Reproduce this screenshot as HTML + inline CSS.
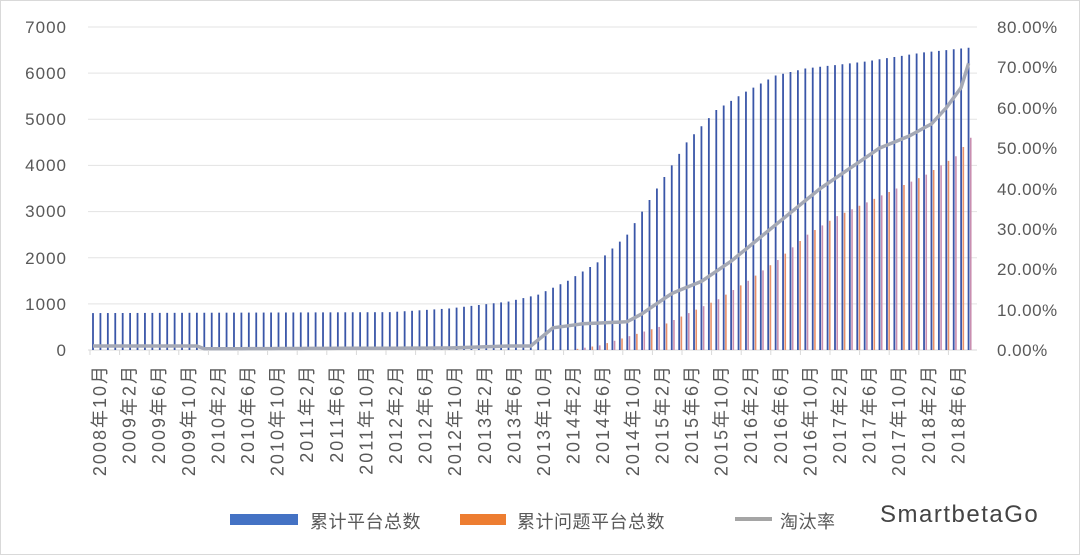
<!DOCTYPE html>
<html><head><meta charset="utf-8"><style>
body{margin:0;background:#fff}
svg{display:block}
text{font-family:"Liberation Sans","Noto Sans CJK SC",sans-serif;fill:#595959}
</style></head><body>
<svg id="s" width="1080" height="555" viewBox="0 0 1080 555" xmlns="http://www.w3.org/2000/svg">
<rect x="0.5" y="0.5" width="1079" height="554" fill="#fff" stroke="#d9d9d9"/>
<g id="g"></g>
<g font-size="17" letter-spacing="1">
<text x="67" y="33" text-anchor="end">7000</text>
<text x="67" y="79" text-anchor="end">6000</text>
<text x="67" y="125" text-anchor="end">5000</text>
<text x="67" y="171" text-anchor="end">4000</text>
<text x="67" y="217" text-anchor="end">3000</text>
<text x="67" y="264" text-anchor="end">2000</text>
<text x="67" y="310" text-anchor="end">1000</text>
<text x="67" y="356" text-anchor="end">0</text>
</g>
<g font-size="17" letter-spacing="0.5">
<text x="997" y="33">80.00%</text>
<text x="997" y="73">70.00%</text>
<text x="997" y="114">60.00%</text>
<text x="997" y="154">50.00%</text>
<text x="997" y="195">40.00%</text>
<text x="997" y="235">30.00%</text>
<text x="997" y="275">20.00%</text>
<text x="997" y="316">10.00%</text>
<text x="997" y="356">0.00%</text>
</g>
<rect x="230" y="514" width="68" height="11" fill="#4472c4"/>
<text x="310" y="528" font-size="18" letter-spacing="0.5">累计平台总数</text>
<rect x="460" y="514" width="46" height="11" fill="#ed7d31"/>
<text x="517" y="528" font-size="18" letter-spacing="0.5">累计问题平台总数</text>
<line x1="735" y1="519" x2="772" y2="519" stroke="#a5a5a5" stroke-width="4"/>
<text x="780" y="528" font-size="18" letter-spacing="0.5">淘汰率</text>
<text x="880" y="522" font-size="24" letter-spacing="1.5" style="fill:#444">SmartbetaGo</text>
</svg>
<script type="text/javascript">
(function(){
var g=document.getElementById('g');var h='';
var y0=350,ppu=323/7000;
function interp(p,i){for(var k=1;k<p.length;k++){if(i<=p[k][0]){var a=p[k-1],b=p[k];return a[1]+(b[1]-a[1])*(i-a[0])/(b[0]-a[0]);}}return p[p.length-1][1];}
for(var v=1;v<=7;v++){var y=y0-v*1000*ppu;h+='<line x1="88" y1="'+y+'" x2="977" y2="'+y+'" stroke="#e3e3e3"/>';}
h+='<line x1="88" y1="'+y0+'" x2="977" y2="'+y0+'" stroke="#d9d9d9"/>';
var B=[[0,800],[40,820],[48,900],[56,1050],[60,1200],[64,1500],[68,1900],[72,2500],[76,3500],[80,4500],[84,5200],[88,5600],[92,5950],[96,6100],[104,6250],[112,6450],[118,6550]];
var O=[[0,0],[64,0],[68,100],[72,300],[76,500],[80,800],[84,1100],[88,1500],[92,1950],[96,2500],[100,2900],[104,3200],[108,3500],[112,3800],[116,4200],[118,4600]];
var R=[[0,1],[14,1],[15,0.3],[48,0.5],[56,1],[59,1],[62,5.5],[66,6.5],[72,7],[74,9],[78,14],[82,17],[86,22],[90,28],[94,34],[98,40],[102,45],[106,50],[110,53],[113,56],[115,60],[117,65],[118,71]];
var pts=[];
for(var i=0;i<=118;i++){var x=93+i*7.42;var b=interp(B,i),o=interp(O,i);
h+='<line x1="'+x+'" y1="'+y0+'" x2="'+x+'" y2="'+(y0-b*ppu)+'" stroke="#3a56a8" stroke-width="1.8"/>';
if(o>0)h+='<line x1="'+(x+2.2)+'" y1="'+y0+'" x2="'+(x+2.2)+'" y2="'+(y0-o*ppu)+'" stroke="'+(i%2?'#e8906a':'#c98fb0')+'" stroke-width="1.6"/>';
pts.push(x.toFixed(1)+','+(y0-interp(R,i)*323/80).toFixed(1));}
h+='<polyline points="'+pts.join(' ')+'" fill="none" stroke="#a5a9b5" stroke-width="3.5"/>';
for(var k=0;k<30;k++){var m=9+4*k;var yr=2008+Math.floor(m/12),mo=m%12+1;
var tx0=90+k*29.6;h+='<line x1="'+tx0+'" y1="'+y0+'" x2="'+tx0+'" y2="'+(y0+5)+'" stroke="#d9d9d9"/>';
var tx=tx0+16;h+='<text transform="translate('+tx+',364) rotate(-90)" text-anchor="end" font-size="18" letter-spacing="2">'+yr+'年'+mo+'月</text>';}
g.innerHTML=h;
})();
</script>
</body></html>
